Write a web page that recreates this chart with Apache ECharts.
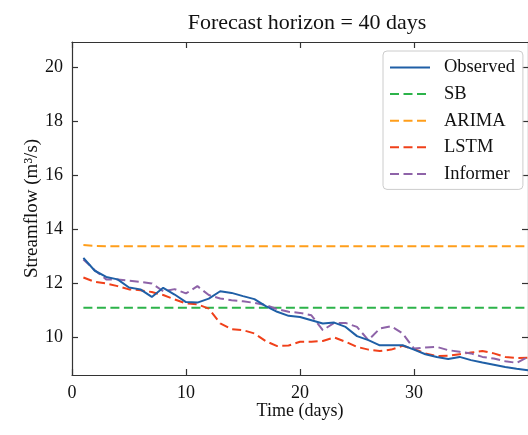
<!DOCTYPE html>
<html>
<head>
<meta charset="utf-8">
<script src="https://cdn.jsdelivr.net/npm/echarts@6/dist/echarts.min.js"></script>
<style>
  html, body { margin: 0; padding: 0; background: #fff; }
  #chart { width: 528px; height: 435px; }
</style>
</head>
<body>
<div id="chart"></div>
<script>
// Daily streamflow forecasts over a 40-day horizon
const days = [1,2,3,4,5,6,7,8,9,10,11,12,13,14,15,16,17,18,19,20,21,22,23,24,25,26,27,28,29,30,31,32,33,34,35,36,37,38,39,40];

const observed = [12.94,12.46,12.23,12.14,11.84,11.77,11.49,11.83,11.58,11.30,11.28,11.43,11.70,11.64,11.52,11.41,11.15,10.94,10.79,10.75,
                  10.63,10.51,10.54,10.38,10.04,9.89,9.70,9.70,9.70,9.54,9.37,9.27,9.19,9.27,9.15,9.06,8.98,8.90,8.83,8.78];
const sb = [11.09,11.09,11.09,11.09,11.09,11.09,11.09,11.09,11.09,11.09,11.09,11.09,11.09,11.09,11.09,11.09,11.09,11.09,11.09,11.09,
            11.09,11.09,11.09,11.09,11.09,11.09,11.09,11.09,11.09,11.09,11.09,11.09,11.09,11.09,11.09,11.09,11.09,11.09,11.09,11.09];
const arima = [13.41,13.38,13.37,13.37,13.37,13.37,13.37,13.37,13.37,13.37,13.37,13.37,13.37,13.37,13.37,13.37,13.37,13.37,13.37,13.37,
               13.37,13.37,13.37,13.37,13.37,13.37,13.37,13.37,13.37,13.37,13.37,13.37,13.37,13.37,13.37,13.37,13.37,13.37,13.37,13.37];
const lstm = [12.21,12.05,11.99,11.89,11.77,11.74,11.67,11.56,11.40,11.25,11.22,11.06,10.51,10.30,10.26,10.14,9.85,9.67,9.69,9.83,
              9.83,9.86,9.99,9.83,9.64,9.54,9.49,9.54,9.68,9.56,9.40,9.30,9.31,9.37,9.43,9.49,9.40,9.27,9.23,9.24];
const informer = [12.88,12.48,12.14,12.14,12.09,12.05,11.99,11.70,11.78,11.62,11.89,11.56,11.43,11.37,11.33,11.27,11.19,11.04,10.94,10.90,
                  10.81,10.26,10.53,10.53,10.38,9.89,10.32,10.41,10.14,9.58,9.62,9.64,9.52,9.46,9.40,9.27,9.21,9.11,9.05,9.27];

const xTicks = [0, 10, 20, 30];
const yTicks = [10, 12, 14, 16, 18, 20];

const seriesDefs = [
  { name: 'Observed', data: observed, color: '#1f5fa6', dashed: false },
  { name: 'SB',       data: sb,       color: '#2cb34a', dashed: true },
  { name: 'ARIMA',    data: arima,    color: '#ff9e1b', dashed: true },
  { name: 'LSTM',     data: lstm,     color: '#f0401a', dashed: true },
  { name: 'Informer', data: informer, color: '#8e63a8', dashed: true }
];

const FONT = 'Liberation Serif';
const AXIS_COLOR = '#333';
const TEXT_COLOR = '#111';

const chart = echarts.init(document.getElementById('chart'), null, { renderer: 'canvas' });

function xAxisBase(pos, showLabels) {
  return {
    type: 'value', position: pos, min: 0, max: 40,
    axisLine: { show: true, onZero: false, lineStyle: { color: AXIS_COLOR, width: 1.2 } },
    axisTick: { show: true, inside: true, length: 6, customValues: xTicks, lineStyle: { color: AXIS_COLOR, width: 1.2 } },
    axisLabel: { show: showLabels, customValues: xTicks, margin: 9, color: TEXT_COLOR, fontFamily: FONT, fontSize: 18 },
    splitLine: { show: false }
  };
}
function yAxisBase(pos, showLabels) {
  return {
    type: 'value', position: pos, min: 8.6, max: 20.93,
    axisLine: { show: true, onZero: false, lineStyle: { color: AXIS_COLOR, width: 1.2 } },
    axisTick: { show: true, inside: true, length: 6, customValues: yTicks, lineStyle: { color: AXIS_COLOR, width: 1.2 } },
    axisLabel: { show: showLabels, customValues: yTicks, margin: 9, color: TEXT_COLOR, fontFamily: FONT, fontSize: 18 },
    splitLine: { show: false }
  };
}

const xBottom = Object.assign(xAxisBase('bottom', true), {
  name: 'Time (days)', nameLocation: 'middle', nameGap: 27, nameMoveOverlap: false,
  nameTextStyle: { color: TEXT_COLOR, fontFamily: FONT, fontSize: 18 }
});
const yLeft = Object.assign(yAxisBase('left', true), {
  name: 'Streamflow (m³/s)', nameLocation: 'middle', nameGap: 30, nameRotate: 90, nameMoveOverlap: false,
  nameTextStyle: { color: TEXT_COLOR, fontFamily: FONT, fontSize: 19 }
});

chart.setOption({
  animation: false,
  backgroundColor: '#ffffff',
  title: {
    text: 'Forecast horizon = 40 days',
    left: 302, top: 7, textAlign: 'center',
    textStyle: { color: TEXT_COLOR, fontFamily: FONT, fontSize: 22, fontWeight: 'normal' }
  },
  grid: { left: 72, top: 42, right: -3, bottom: 60, containLabel: false },
  legend: {
    left: 383, top: 51,
    orient: 'vertical',
    itemWidth: 40, itemHeight: 14, itemGap: 7.6,
    padding: [7, 8, 6, 6],
    backgroundColor: 'rgba(255,255,255,0.85)',
    borderColor: '#cccccc', borderWidth: 1, borderRadius: 4,
    itemStyle: { opacity: 0 },
    textStyle: { color: TEXT_COLOR, fontFamily: FONT, fontSize: 18.5, lineHeight: 18, padding: [0, 0, 0, 9] },
    data: seriesDefs.map(s => s.name)
  },
  xAxis: [xBottom, xAxisBase('top', false)],
  yAxis: [yLeft, yAxisBase('right', false)],
  series: seriesDefs.map(s => ({
    name: s.name,
    type: 'line',
    xAxisIndex: 0, yAxisIndex: 0,
    data: days.map((d, i) => [d, s.data[i]]),
    showSymbol: false, symbol: 'none',
    color: s.color,
    lineStyle: { color: s.color, width: 2, type: s.dashed ? [9, 4.5] : 'solid' },
    itemStyle: { color: s.color },
    z: s.name === 'Observed' ? 3 : 2
  }))
});
</script>
</body>
</html>
